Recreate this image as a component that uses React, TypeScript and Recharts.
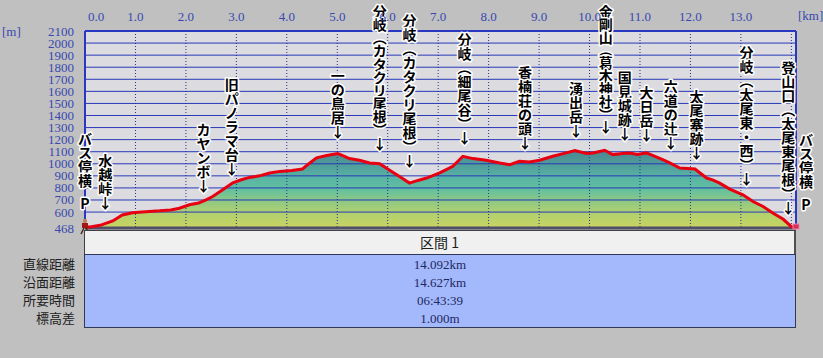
import React from 'react';
import { ComposedChart, Area, Line, Scatter, XAxis, YAxis, CartesianGrid, ReferenceLine, ReferenceDot } from 'recharts';

// elevation profile: horizontal distance [km] / elevation [m]
const distKm = [
  0, 0.1, 0.3, 0.55, 0.74, 0.94, 1.2, 1.48, 1.7, 1.87, 2.07, 2.25, 2.4, 2.53, 2.73, 2.93, 3.1, 3.26, 3.46, 3.66,
  3.86, 4.1, 4.31, 4.45, 4.59, 4.79, 5.01, 5.12, 5.24, 5.44, 5.64, 5.84, 6.1, 6.25, 6.43, 6.6, 6.77, 7.03, 7.15, 7.29,
  7.49, 7.69, 7.95, 8.22, 8.42, 8.61, 8.81, 9.01, 9.27, 9.54, 9.71, 9.94, 10.07, 10.3, 10.46, 10.66, 10.79, 10.95, 11.13, 11.26,
  11.45, 11.59, 11.79, 12.09, 12.19, 12.32, 12.45, 12.58, 12.78, 13.04, 13.24, 13.44, 13.64, 13.84, 14.0, 14.092,
];
const elevM = [
  478, 476, 490, 526, 576, 595, 603, 610, 618, 632, 660, 675, 701, 729, 785, 843, 868, 887, 900, 924,
  937, 945, 957, 1005, 1049, 1068, 1085, 1065, 1043, 1029, 1007, 1001, 929, 890, 840, 862, 882, 924, 950, 979,
  1062, 1043, 1029, 1007, 993, 1020, 1015, 1029, 1062, 1090, 1110, 1085, 1090, 1112, 1076, 1085, 1090, 1078, 1090, 1068,
  1035, 1007, 965, 957, 924, 882, 865, 840, 790, 743, 687, 646, 590, 540, 479, 468,
];

const kmTicks = [0, 1, 2, 3, 4, 5, 6, 7, 8, 9, 10, 11, 12, 13, 14];
const elevTicks = [468, 600, 700, 800, 900, 1000, 1100, 1200, 1300, 1400, 1500, 1600, 1700, 1800, 1900, 2000, 2100];

// waypoint labels: name, distance, elevation where the arrow ends
const spotNames = [
  'バス停横 P', '水越峠↓', 'カヤンボ↓', '旧パノラマ台↓', '一の鳥居↓', '分岐(カタクリ尾根)↓', '分岐(カタクリ尾根)↓',
  '分岐(細尾谷)↓', '香楠荘の頭↓', '湧出岳↓', '金剛山(葛木神社)↓', '国見城跡↓', '大日岳↓', '六道の辻↓', '太尾塞跡↓',
  '分岐(太尾東・西)↓', '登山口(太尾東尾根)↓', 'バス停横 P',
];
const spotKm = [0, 0.4, 2.35, 2.91, 5.01, 5.84, 6.43, 7.52, 8.72, 9.73, 10.32, 10.7, 11.13, 11.61, 12.12, 13.11, 13.94, 14.092];
const spotTipM = [618, 626, 768, 910, 1210, 1118, 976, 1168, 1126, 1226, 1251, 1201, 1185, 1126, 1043, 826, 585, 610];

const rowLabels = ['直線距離', '沿面距離', '所要時間', '標高差'];
const rowValues = ['14.092km', '14.627km', '06:43:39', '1.000m'];
const sectionTitle = '区間 1';

const profile = distKm.map((km, i) => ({ km, elev: elevM[i] }));
const spots = spotNames.map((name, i) => ({ km: spotKm[i], elev: spotTipM[i], name }));

const axisBlue = '#3848b0';
const serif = '"Liberation Serif", serif';
const gothic = '"Noto Sans CJK JP", sans-serif';

function KmTick(props: any) {
  const { x, payload } = props;
  if (payload.value === 14) return <g />;
  const first = payload.value === 0;
  return (
    <text x={first ? x + 3 : x} y={21} textAnchor={first ? 'start' : 'middle'} fill={axisBlue} fontSize={13} fontFamily={serif}>
      {payload.value.toFixed(1)}
    </text>
  );
}

function ElevTick(props: any) {
  const { y, payload } = props;
  return (
    <text x={74} y={y} textAnchor="end" dominantBaseline="central" fill={axisBlue} fontSize={13} fontFamily={serif}>
      {payload.value}
    </text>
  );
}

// vertical (one char per line) waypoint name ending just above the point
function SpotLabel(props: any) {
  const { cx, cy, payload } = props;
  const chars = Array.from(payload.name as string).map((c) => (c === '(' ? '︵' : c === ')' ? '︶' : c));
  const bottom = cy - 7;
  const x = payload.km >= 14.09 ? cx + 10 : cx;
  const steps = chars.map((c) => (c === ' ' ? 9 : 14));
  const total = steps.slice(1).reduce((a, b) => a + b, 0);
  const squeeze = total > bottom - 11 ? (bottom - 11) / total : 1;
  const ys: number[] = [];
  let y = bottom;
  for (let i = chars.length - 1; i >= 0; i--) {
    ys[i] = y;
    y -= steps[i] * squeeze;
  }
  return (
    <text
      textAnchor="middle"
      dominantBaseline="central"
      fontSize={14}
      fontWeight={700}
      fontFamily={gothic}
      fill="#000"
      stroke="#fff"
      strokeWidth={3}
      strokeLinejoin="round"
      style={{ paintOrder: 'stroke' }}
    >
      {chars.map((c, i) =>
        c === ' ' ? null : (
          <tspan key={i} x={x} y={ys[i]}>
            {c}
          </tspan>
        )
      )}
    </text>
  );
}

function Hiker(props: any) {
  const { cx, cy } = props;
  return (
    <g>
      <circle cx={cx} cy={cy - 7} r={2.2} fill="#c08060" />
      <rect x={cx - 3} y={cy - 5} width={6} height={5} fill="#a01818" />
      <path d={`M${cx - 1},${cy} L${cx - 4},${cy + 6} M${cx + 1},${cy} L${cx + 4},${cy + 6}`} stroke="#402818" strokeWidth={1.5} />
    </g>
  );
}

function EndMark(props: any) {
  const { cx, cy } = props;
  return <rect x={cx - 3} y={cy - 4} width={6} height={5} fill="#d03060" stroke="#f080a0" strokeWidth={1} />;
}

export default function App() {
  return (
    <div style={{ position: 'absolute', left: 0, top: 0, width: 823, height: 358, background: '#c0c0c0', overflow: 'hidden' }}>
      <ComposedChart width={823} height={358} data={profile} margin={{ top: 0, right: 27, bottom: 130, left: 0 }}>
        <defs>
          <linearGradient id="elevFill" x1="0" y1="0" x2="0" y2="1">
            <stop offset="0" stopColor="#4a8890" />
            <stop offset="0.15" stopColor="#4f9898" />
            <stop offset="0.35" stopColor="#58b4a4" />
            <stop offset="0.5" stopColor="#62c0a0" />
            <stop offset="0.65" stopColor="#8ec884" />
            <stop offset="0.8" stopColor="#b0d070" />
            <stop offset="1" stopColor="#c8d460" />
          </linearGradient>
        </defs>
        <CartesianGrid fill="#dcdce0" horizontal={false} vertical={false} />
        <XAxis
          dataKey="km"
          type="number"
          orientation="top"
          domain={[0, 14.092]}
          ticks={kmTicks}
          interval={0}
          height={31}
          axisLine={false}
          tickLine={false}
          tick={<KmTick />}
        />
        <YAxis
          type="number"
          domain={[468, 2100]}
          ticks={elevTicks}
          interval={0}
          width={85}
          axisLine={false}
          tickLine={false}
          tick={<ElevTick />}
        />
        <Area dataKey="elev" type="linear" stroke="none" fill="url(#elevFill)" fillOpacity={1} baseValue={468} isAnimationActive={false} />
        {elevTicks.slice(1).map((v) => (
          <ReferenceLine key={'h' + v} y={v} stroke="#2838b8" strokeWidth={1} />
        ))}
        {kmTicks.slice(1).map((v) => (
          <ReferenceLine key={'v' + v} x={v} stroke="#203090" strokeDasharray="1 2" strokeWidth={1} />
        ))}
        <ReferenceLine x={0} stroke="#2838c0" strokeWidth={2} />
        <ReferenceLine x={14.092} stroke="#2838c0" strokeWidth={2} />
        <ReferenceLine y={2100} stroke="#2838c0" strokeWidth={2} />
        <ReferenceLine y={468} stroke="#505068" strokeWidth={3} />
        <Line dataKey="elev" type="linear" stroke="#e80010" strokeWidth={3} dot={false} isAnimationActive={false} />
        <ReferenceDot x={0} y={468} shape={<Hiker />} />
        <ReferenceDot x={14.092} y={468} shape={<EndMark />} />
        <Scatter data={spots} dataKey="elev" shape={<SpotLabel />} isAnimationActive={false} />
      </ComposedChart>

      <div style={{ position: 'absolute', left: 2, top: 24, color: axisBlue, fontSize: 13, fontFamily: serif }}>[m]</div>
      <div style={{ position: 'absolute', left: 798, top: 8, color: axisBlue, fontSize: 13, fontFamily: serif }}>[km]</div>

      <div
        style={{
          position: 'absolute', left: 84, top: 230, width: 709, height: 23, background: '#f0f0f0',
          borderTop: '1px solid #404040', borderLeft: '1px solid #404040', borderRight: '2px solid #505050',
          borderBottom: '1px solid #909090', textAlign: 'center', lineHeight: '23px', fontSize: 14, fontFamily: gothic, color: '#202020',
        }}
      >
        {sectionTitle}
      </div>
      <div
        style={{
          position: 'absolute', left: 84, top: 254, width: 710, height: 72, background: '#a4b8fc',
          border: '1px solid #303858', boxSizing: 'content-box',
        }}
      >
        {rowValues.map((v, i) => (
          <div key={v} style={{ position: 'absolute', left: 0, width: 710, top: 1 + i * 18, height: 18, lineHeight: '18px', textAlign: 'center', fontSize: 13, fontFamily: serif, color: '#1c2860' }}>
            {v}
          </div>
        ))}
      </div>
      {rowLabels.map((t, i) => (
        <div key={t} style={{ position: 'absolute', right: 823 - 75, top: 255 + i * 18, height: 18, lineHeight: '18px', fontSize: 13, fontFamily: gothic, color: '#202020', whiteSpace: 'nowrap' }}>
          {t}
        </div>
      ))}
    </div>
  );
}
